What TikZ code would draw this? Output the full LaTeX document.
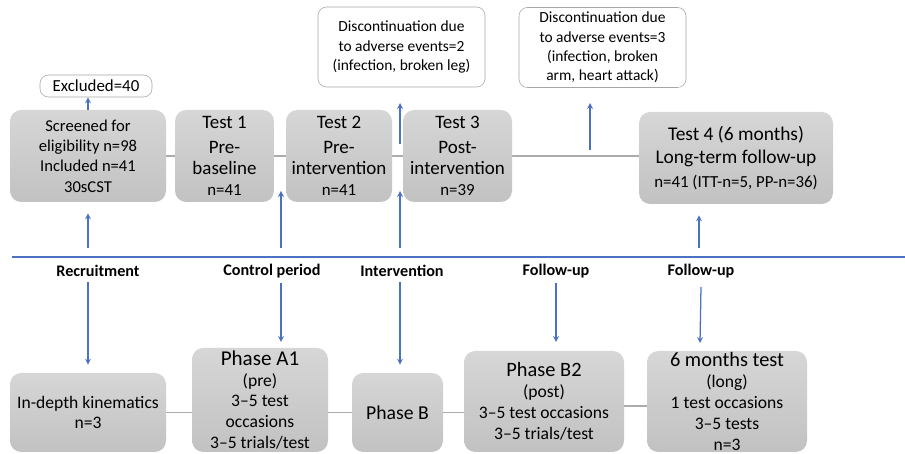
\documentclass[tikz,border=0pt]{standalone}
\usepackage{fontspec}
\setmainfont{Carlito}
\usetikzlibrary{backgrounds}
\definecolor{flowblue}{HTML}{4A72C0}
\newcommand{\fs}[2]{\fontsize{#1}{#2}\selectfont}

\begin{document}
\begin{tikzpicture}[>=stealth,
    block/.style={rounded corners=8pt, top color=gray!32, bottom color=gray!48, align=center, inner sep=0pt},
    note/.style={draw=gray!70, rounded corners=6pt, fill=white, align=center, inner sep=0pt, font=\fs{11}{13.8}},
    link/.style={gray!65, line width=0.8pt},
    flow/.style={->, flowblue, line width=0.9pt},
    phase/.style={font=\bfseries\fs{11.5}{13}}]
    \useasboundingbox (0,0) rectangle (22.625,11.35);
    % top row: study tests
    \node[block, minimum width=3.9cm, minimum height=2.3cm, font=\fs{11.8}{14.4}] (screen) at (2.2,7.45) {Screened for\\eligibility n=98\\Included n=41\\30sCST};
    \node[block, minimum width=2.475cm, minimum height=2.3cm, font=\fs{13.5}{15}] (test1) at (5.6125,7.45) {Test 1\\[3pt]Pre-\\baseline\\{\fs{12}{14.5}n=41}};
    \node[block, minimum width=2.65cm, minimum height=2.3cm, font=\fs{13.5}{15}] (test2) at (8.475,7.45) {Test 2\\[3pt]Pre-\\intervention\\{\fs{12}{14.5}n=41}};
    \node[block, minimum width=2.725cm, minimum height=2.3cm, font=\fs{13.5}{15}] (test3) at (11.4375,7.45) {Test 3\\[3pt]Post-\\intervention\\{\fs{12}{14.5}n=39}};
    \node[block, minimum width=4.85cm, minimum height=2.3cm, font=\fs{13.8}{17}] (test4) at (18.4,7.4) {Test 4 (6 months)\\Long-term follow-up\\{\fs{12}{15}n=41 (ITT-n=5, PP-n=36)}};
    % drop-outs
    \node[note, minimum width=2.8cm, minimum height=0.55cm, font=\fs{12}{14}] (excl) at (2.4,9.2) {Excluded=40};
    \node[note, minimum width=4.175cm, minimum height=2cm] (disc1) at (10.0375,10.175) {Discontinuation due\\to adverse events=2\\(infection, broken leg)};
    \node[note, minimum width=4.175cm, minimum height=2cm] (disc2) at (15.0625,10.1625) {Discontinuation due\\to adverse events=3\\(infection, broken\\arm, heart attack)};
    % bottom row: kinematics phases
    \node[block, minimum width=3.9cm, minimum height=1.975cm, font=\fs{12.5}{14.5}] (kin) at (2.2,1.0375) {In-depth kinematics\\n=3};
    \node[block, minimum width=3.4cm, minimum height=2.6cm, font=\fs{12.5}{14.8}] (pa1) at (6.5,1.35) {{\fs{15}{16}Phase A1}\\(pre)\\3--5 test\\occasions\\3--5 trials/test};
    \node[block, minimum width=2.275cm, minimum height=1.975cm, font=\fs{14}{16}] (pb) at (9.9375,1.0375) {Phase B};
    \node[block, minimum width=4cm, minimum height=2.525cm, font=\fs{12.5}{14.8}] (pb2) at (13.6,1.3125) {{\fs{14.5}{16}Phase B2}\\(post)\\3--5 test occasions\\3--5 trials/test};
    \node[block, minimum width=4cm, minimum height=2.525cm, font=\fs{12.5}{14.8}] (long) at (18.175,1.3125) {{\fs{14.5}{16}6 months test}\\(long)\\1 test occasions\\3--5 tests\\n=3};
    % period labels
    \node[phase] (recr) at (2.45,4.575) {Recruitment};
    \node[phase] (ctrl) at (6.8,4.575) {Control period};
    \node[phase] (intv) at (10.05,4.575) {Intervention};
    \node[phase] (fol1) at (13.9,4.575) {Follow-up};
    \node[phase] (fol2) at (17.525,4.575) {Follow-up};
    % free arrow ends
    \coordinate (d1a) at (10,7.75);
    \coordinate (d1b) at (10,8.775);
    \coordinate (d2a) at (14.75,7.6);
    \coordinate (d2b) at (14.75,8.775);
    \coordinate (u1) at (2.2,5.15);
    \coordinate (u2) at (7.025,5.15);
    \coordinate (u3) at (10,5.15);
    \coordinate (u4) at (17.475,5.15);
    \coordinate (t2) at (7.025,6.575);
    \coordinate (t3) at (10,6.575);
    \coordinate (lineL) at (0.3,4.925);
    \coordinate (lineR) at (22.625,4.925);
    \coordinate (k2) at (7.025,2.8);
    \coordinate (k4) at (13.9,2.8);
    \coordinate (k5) at (17.5,2.775);
    \begin{scope}[on background layer]
        \draw[link] (screen.east) -- (test1.west);
        \draw[link] (test1.east) -- (test2.west);
        \draw[link] (test2.east) -- (test3.west);
        \draw[link] (test3.east) -- (test3.east -| test4.west);
        \draw[link] (kin.east) -- (kin.east -| pa1.west);
        \draw[link] (pa1.east |- pb.east) -- (pb.east);
        \draw[link] (pb.east) -- (pb.east -| pb2.west);
        \draw[link] (pb2.east |- 0,1.2) -- (long.west |- 0,1.2);
    \end{scope}
    \draw[flowblue, line width=1pt] (lineL) -- (lineR);
    \draw[flow] (screen.north) -- (screen.north |- excl.south);
    \draw[flow] (d1a) -- (d1b);
    \draw[flow] (d2a) -- (d2b);
    \draw[flow] (u1) -- ([yshift=-0.275cm]screen.south);
    \draw[flow] (u2) -- (t2);
    \draw[flow] (u3) -- (t3);
    \draw[flow] (u4) -- ([yshift=-0.275cm]test4.south -| u4);
    \draw[flow] (recr.south -| kin.north) -- ([yshift=0.2cm]kin.north);
    \draw[flow] (ctrl.south -| k2) -- (k2);
    \draw[flow] (intv.south -| u3) -- ([yshift=0.2cm]pb.north -| u3);
    \draw[flow] (fol1.south) -- (k4);
    \draw[flow] ([yshift=-0.1cm]fol2.south) -- (k5);
\end{tikzpicture}
\end{document}
